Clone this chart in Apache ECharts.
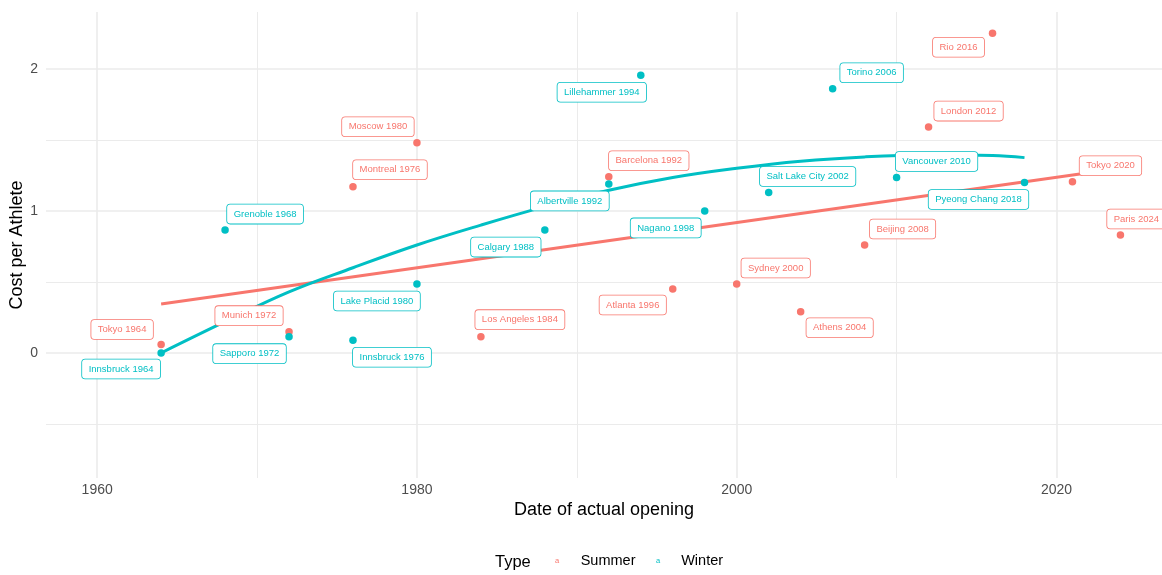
<!DOCTYPE html>
<html><head><meta charset="utf-8">
<script src="https://cdn.jsdelivr.net/npm/echarts@6/dist/echarts.min.js"></script>
<style>html,body{margin:0;padding:0;background:#fff}#c{width:1162px;height:575px}</style>
</head><body><div id="c"></div>
<script>
// ---- data ----
const summerNames = ['Tokyo 1964','Munich 1972','Montreal 1976','Moscow 1980','Los Angeles 1984','Barcelona 1992','Atlanta 1996','Sydney 2000','Athens 2004','Beijing 2008','London 2012','Rio 2016','Tokyo 2020','Paris 2024'];
const summerYears = [1964,1972,1976,1980,1984,1992,1996,2000,2004,2008,2012,2016,2021,2024];
const summerCost  = [0.06,0.15,1.17,1.48,0.115,1.24,0.45,0.485,0.29,0.76,1.59,2.25,1.205,0.83];

const winterNames = ['Innsbruck 1964','Grenoble 1968','Sapporo 1972','Innsbruck 1976','Lake Placid 1980','Calgary 1988','Albertville 1992','Lillehammer 1994','Nagano 1998','Salt Lake City 2002','Torino 2006','Vancouver 2010','Pyeong Chang 2018'];
const winterYears = [1964,1968,1972,1976,1980,1988,1992,1994,1998,2002,2006,2010,2018];
const winterCost  = [0.0,0.865,0.115,0.09,0.485,0.865,1.19,1.955,1.0,1.13,1.86,1.235,1.2];

// fitted trend curves as they appear in the picture
const summerTrendYears = [1964, 2024];
const summerTrendCost  = [0.345, 1.30];
const winterTrendYears = [1964,1968,1972,1976,1980,1984,1988,1992,1996,2000,2004,2008,2012,2016,2018];
const winterTrendCost  = [0.0,0.22,0.43,0.60,0.76,0.90,1.03,1.145,1.235,1.30,1.35,1.38,1.393,1.39,1.375];

const xLabelTicks = [1960,1980,2000,2020];
const xMajorGrid = [1960,1980,2000,2020];
const xMinorGrid = [1970,1990,2010];
const yLabelTicks = [0,1,2];
const yMajorGrid = [0,1,2];
const yMinorGrid = [-0.5,0.5,1.5];

// ---- layout (label box offsets in px, from each point) ----
const summerLabelOffsets = [[-39,-15],[-40,-16],[37,-17],[-39,-16],[39,-17],[40,-16],[-40,16],[39,-16],[39,16],[38,-16],[40,-16],[-34,14],[38,-16],[16,-16]];
const winterLabelOffsets = [[-40,16],[40,-16],[-39.5,17],[39,17],[-40,17],[-39,17],[-39,17],[-39,17],[-39,17],[39,-16],[39,-16],[40,-16],[-46,17]];

const RED = '#F8766D', TEAL = '#00BFC4';
const FONT = "'Liberation Sans', Helvetica, Arial, sans-serif";

function pts(xs, ys) {
  return xs.map((x, i) => [x, ys[i]]);
}
function labelPts(xs, ys, names, offs, color) {
  return xs.map((x, i) => ({ name: names[i], value: [x, ys[i]], label: Object.assign(labelStyle(color), { offset: offs[i] }) }));
}
function labelStyle(color) {
  return {
    show: true, position: 'inside', formatter: '{b}', color: color,
    fontSize: 9.5, fontFamily: FONT, lineHeight: 11,
    backgroundColor: '#ffffff', borderColor: color, borderWidth: 0.8, borderRadius: 3,
    padding: [4, 6.5]
  };
}
const gridLine = (w) => ({ color: '#EBEBEB', width: w, type: 'solid' });

const chart = echarts.init(document.getElementById('c'), null, { renderer: 'canvas' });
chart.setOption({
  animation: false,
  backgroundColor: '#ffffff',
  grid: { left: 46, right: 0, top: 12, bottom: 97, containLabel: false, outerBoundsMode: 'none' },
  xAxis: {
    type: 'value', min: 1956.8, max: 2026.6,
    name: 'Date of actual opening', nameLocation: 'middle', nameGap: 23, nameMoveOverlap: false,
    nameTextStyle: { fontSize: 18, color: '#000', fontFamily: FONT },
    axisLine: { show: false }, axisTick: { show: false }, splitLine: { show: false },
    axisLabel: { customValues: xLabelTicks, formatter: v => String(v), fontSize: 14, color: '#4D4D4D', fontFamily: FONT, margin: 5 }
  },
  yAxis: {
    type: 'value', min: -0.88, max: 2.40,
    name: 'Cost per Athlete', nameLocation: 'middle', nameGap: 20, nameMoveOverlap: false,
    nameTextStyle: { fontSize: 18, color: '#000', fontFamily: FONT },
    axisLine: { show: false }, axisTick: { show: false }, splitLine: { show: false },
    axisLabel: { customValues: yLabelTicks, formatter: v => String(v), fontSize: 14, color: '#4D4D4D', fontFamily: FONT, margin: 8 }
  },
  legend: [
    { data: ['Summer'], left: 549, top: 553, padding: 0, icon: 'none', itemWidth: 1, itemHeight: 1, selectedMode: false,
      formatter: () => '{k|a}{g|}{t|Summer}',
      textStyle: { fontFamily: FONT, rich: { k: { color: RED, fontSize: 7.5 }, g: { width: 21.5 }, t: { fontSize: 14.5, color: '#000', lineHeight: 17 } } } },
    { data: ['Winter'], left: 650, top: 553, padding: 0, icon: 'none', itemWidth: 1, itemHeight: 1, selectedMode: false,
      formatter: () => '{k|a}{g|}{t|Winter}',
      textStyle: { fontFamily: FONT, rich: { k: { color: TEAL, fontSize: 7.5 }, g: { width: 21 }, t: { fontSize: 14.5, color: '#000', lineHeight: 17 } } } }
  ],
  graphic: [
    { type: 'text', left: 495, top: 553, style: { text: 'Type', fontSize: 16.5, fontFamily: FONT, fill: '#000', lineHeight: 18 } }
  ],
  series: [
    { type: 'scatter', name: 'grid', data: [], z: 0, silent: true,
      markLine: { z: 0, silent: true, symbol: ['none', 'none'], label: { show: false }, animation: false,
        data: [
          ...xMinorGrid.map(v => ({ xAxis: v, lineStyle: gridLine(1) })),
          ...yMinorGrid.map(v => ({ yAxis: v, lineStyle: gridLine(1) })),
          ...xMajorGrid.map(v => ({ xAxis: v, lineStyle: gridLine(1.6) })),
          ...yMajorGrid.map(v => ({ yAxis: v, lineStyle: gridLine(1.6) }))
        ] } },
    { type: 'line', name: 'Summer', data: pts(summerTrendYears, summerTrendCost), showSymbol: false, symbol: 'none', lineStyle: { color: RED, width: 3 }, itemStyle: { color: RED }, z: 6 },
    { type: 'line', name: 'Winter', data: pts(winterTrendYears, winterTrendCost), showSymbol: false, symbol: 'none', smooth: 0.4, lineStyle: { color: TEAL, width: 3 }, itemStyle: { color: TEAL }, z: 6 },
    { type: 'scatter', name: 'Summer', data: labelPts(summerYears, summerCost, summerNames, summerLabelOffsets, RED), symbolSize: 7.5,
      itemStyle: { color: RED, opacity: 1 }, label: labelStyle(RED), z: 7 },
    { type: 'scatter', name: 'Winter', data: labelPts(winterYears, winterCost, winterNames, winterLabelOffsets, TEAL), symbolSize: 7.5,
      itemStyle: { color: TEAL, opacity: 1 }, label: labelStyle(TEAL), z: 7 }
  ]
});
</script></body></html>
